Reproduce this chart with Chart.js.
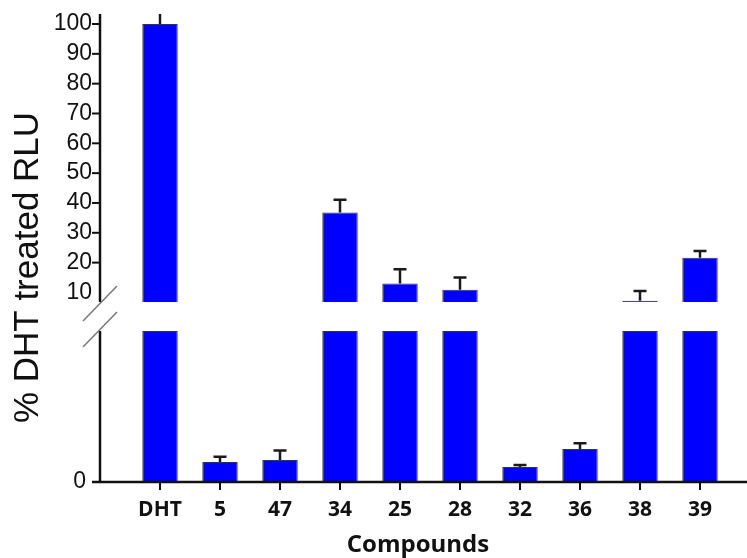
<!DOCTYPE html>
<html>
<head>
<meta charset="utf-8">
<script src="https://cdn.jsdelivr.net/npm/chart.js@4.4.0/dist/chart.umd.min.js"></script>
<style>
  html, body { margin: 0; padding: 0; background: #fff; }
  #wrap { width: 747px; height: 558px; }
</style>
</head>
<body>
<div id="wrap"><canvas id="barChart" width="747" height="558"></canvas></div>
<script>
// compounds and their response (% of DHT treated RLU), with error bars
const compounds = ['DHT', '5', '47', '34', '25', '28', '32', '36', '38', '39'];
const meanRLU = [100, 0.66, 0.73, 36.8, 13, 10.9, 0.5, 1.09, 7.2, 21.6];
const errRLU = [5, 0.18, 0.31, 4.3, 4.8, 4.1, 0.06, 0.19, 3.3, 2.3];
const upperTicks = [10, 20, 30, 40, 50, 60, 70, 80, 90, 100];
const lowerTicks = [0];

// broken axis: lower segment shows 0..lowCap, upper segment upMin..upMax
const lowCap = 5;
const lowMax = lowCap * 180 / 151;   // leaves the gap above the lower segment
const upMin = 6.8;
const upMax = 103.35;

const upperData = meanRLU.map(v => (v >= upMin ? v : null));
const lowerData = meanRLU.map(v => Math.min(v, lowCap));

const axisColor = '#111';

// keep label paddings from shrinking the plot area
function fixBox(width, height) {
  return function(scale) {
    if (width) scale.width = width;
    if (height) scale.height = height;
    scale.paddingTop = 0;
    scale.paddingBottom = 0;
    scale.paddingLeft = 0;
    scale.paddingRight = 0;
  };
}

const brokenAxis = {
  id: 'brokenAxis',
  afterDatasetsDraw(chart) {
    const ctx = chart.ctx;
    const x = chart.scales.x;
    const yUp = chart.scales.yUp;
    const yLow = chart.scales.yLow;
    const area = chart.chartArea;
    const axisX = 100;

    // error bars
    ctx.save();
    ctx.beginPath();
    ctx.rect(0, area.top, chart.width, area.bottom - area.top);
    ctx.clip();
    ctx.strokeStyle = '#1a1a1a';
    ctx.lineWidth = 2.5;
    meanRLU.forEach((v, i) => {
      const s = v >= upMin ? yUp : yLow;
      const px = x.getPixelForValue(i);
      const y0 = s.getPixelForValue(v);
      const y1 = s.getPixelForValue(v + errRLU[i]);
      ctx.beginPath();
      ctx.moveTo(px, y0);
      ctx.lineTo(px, y1);
      ctx.moveTo(px - 6.5, y1);
      ctx.lineTo(px + 6.5, y1);
      ctx.stroke();
    });
    ctx.restore();

    // axis lines
    ctx.save();
    ctx.strokeStyle = axisColor;
    ctx.lineWidth = 2.5;
    const upBottom = yUp.getPixelForValue(upMin);
    const lowTop = yLow.getPixelForValue(lowCap);
    const zeroY = yLow.getPixelForValue(0);
    ctx.beginPath();
    ctx.moveTo(axisX, yUp.top);
    ctx.lineTo(axisX, upBottom);
    ctx.moveTo(axisX, lowTop);
    ctx.lineTo(axisX, zeroY);
    ctx.moveTo(axisX - 8, zeroY);
    ctx.lineTo(chart.width, zeroY);
    ctx.stroke();

    ctx.lineWidth = 2;
    upperTicks.filter(t => t > 10).forEach(t => {
      const py = yUp.getPixelForValue(t);
      ctx.beginPath();
      ctx.moveTo(axisX - 8, py);
      ctx.lineTo(axisX, py);
      ctx.stroke();
    });
    compounds.forEach((c, i) => {
      const px = x.getPixelForValue(i);
      ctx.beginPath();
      ctx.moveTo(px, zeroY);
      ctx.lineTo(px, zeroY + 8);
      ctx.stroke();
    });

    // break marks
    ctx.strokeStyle = '#777';
    ctx.lineWidth = 1.5;
    [upBottom + 1.5, lowTop - 1.5].forEach(cy => {
      ctx.beginPath();
      ctx.moveTo(axisX - 17, cy + 17.5);
      ctx.lineTo(axisX + 17, cy - 17.5);
      ctx.stroke();
    });

    // axis titles
    ctx.fillStyle = '#111';
    ctx.font = 'bold 24px "Open Sans"';
    ctx.textAlign = 'center';
    ctx.textBaseline = 'alphabetic';
    ctx.fillText('Compounds', 418, 552);

    ctx.translate(38, 267.5);
    ctx.rotate(-Math.PI / 2);
    ctx.font = '35px "Liberation Sans"';
    ctx.fillText('% DHT treated RLU', 0, 0);
    ctx.restore();
  }
};

const ctx = document.getElementById('barChart');
new Chart(ctx, {
  type: 'bar',
  data: {
    labels: compounds,
    datasets: [
      {
        data: upperData,
        yAxisID: 'yUp',
        backgroundColor: '#0000ff',
        borderColor: '#333',
        borderWidth: 1,
        grouped: false,
        barPercentage: 0.59,
        categoryPercentage: 1
      },
      {
        data: lowerData,
        yAxisID: 'yLow',
        backgroundColor: '#0000ff',
        borderColor: '#333',
        borderWidth: 1,
        grouped: false,
        barPercentage: 0.59,
        categoryPercentage: 1
      }
    ]
  },
  options: {
    responsive: false,
    animation: false,
    layout: { padding: { top: 14, right: 17, left: 0, bottom: 0 } },
    plugins: {
      legend: { display: false },
      tooltip: { enabled: false }
    },
    scales: {
      x: {
        type: 'category',
        offset: true,
        grid: { display: false, drawTicks: false },
        border: { display: false },
        ticks: {
          color: '#111',
          padding: 15,
          maxRotation: 0,
          autoSkip: false,
          font: { family: '"Open Sans"', size: 21, weight: 'bold' }
        },
        afterFit: fixBox(0, 76)
      },
      yLow: {
        type: 'linear',
        position: 'left',
        stack: 'rlu',
        stackWeight: 180,
        offset: false,
        min: 0,
        max: lowMax,
        grid: { display: false, drawTicks: false },
        border: { display: false },
        afterBuildTicks(scale) { scale.ticks = lowerTicks.map(v => ({ value: v })); },
        ticks: {
          color: '#111',
          padding: 44,
          autoSkip: false,
          font: { family: '"Liberation Sans"', size: 23 }
        },
        afterFit: fixBox(130, 0)
      },
      yUp: {
        type: 'linear',
        position: 'left',
        stack: 'rlu',
        stackWeight: 288,
        offset: false,
        min: upMin,
        max: upMax,
        grid: { display: false, drawTicks: false },
        border: { display: false },
        afterBuildTicks(scale) { scale.ticks = upperTicks.map(v => ({ value: v })); },
        ticks: {
          color: '#111',
          padding: 38,
          autoSkip: false,
          font: { family: '"Liberation Sans"', size: 23 }
        },
        afterFit: fixBox(130, 0)
      }
    }
  },
  plugins: [brokenAxis]
});
</script>
</body>
</html>
